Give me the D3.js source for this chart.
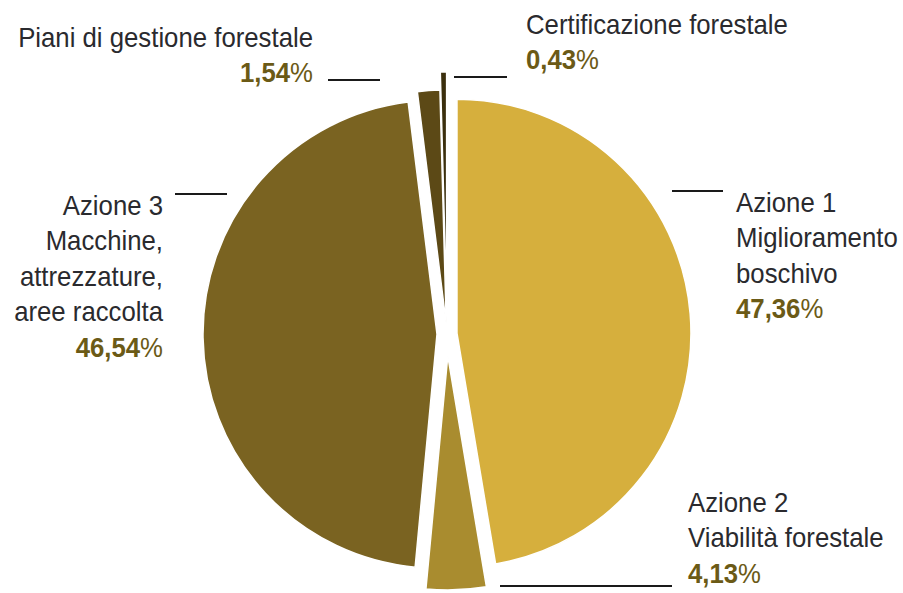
<!DOCTYPE html>
<html>
<head>
<meta charset="utf-8">
<script src="https://cdn.jsdelivr.net/npm/d3@7/dist/d3.min.js"></script>
<style>
  html, body { margin: 0; padding: 0; background: #ffffff; }
  svg { display: block; }
</style>
</head>
<body>
<svg id="chart" width="903" height="593"></svg>
<script>
// ---- DATA ----
const categories = [
  "Azione 1 Miglioramento boschivo",
  "Azione 2 Viabilità forestale",
  "Azione 3 Macchine, attrezzature, aree raccolta",
  "Piani di gestione forestale",
  "Certificazione forestale"
];
const labelLines = [
  ["Azione 1", "Miglioramento", "boschivo"],
  ["Azione 2", "Viabilità forestale"],
  ["Azione 3", "Macchine,", "attrezzature,", "aree raccolta"],
  ["Piani di gestione forestale"],
  ["Certificazione forestale"]
];
const values = [47.36, 4.13, 46.54, 1.54, 0.43];

// ---- STYLE / LAYOUT ----
const colors = ["#D6AF3D", "#A98C2F", "#7A6321", "#5C4916", "#3B2F0D"];
const explode = [10, 22, 10, 10, 28];
const labelLayout = [
  { x: 736, y: 212, anchor: "start" },
  { x: 688, y: 512, anchor: "start" },
  { x: 163, y: 215, anchor: "end" },
  { x: 313, y: 47,  anchor: "end" },
  { x: 526, y: 34,  anchor: "start" }
];
const leaders = [
  { x1: 672, x2: 723, y: 191 },
  { x1: 500, x2: 672, y: 586 },
  { x1: 175, x2: 227, y: 194 },
  { x1: 328, x2: 380, y: 80 },
  { x1: 454, x2: 507, y: 77 }
];
const cx = 447, cy = 334, R = 234;
const lineHeight = 35.5;
const condense = 0.92;
const fontFamily = "'Liberation Sans', Arial, sans-serif";

const svg = d3.select("#chart");
const itLocale = d3.formatLocale({ decimal: ",", thousands: ".", grouping: [3], currency: ["", "€"] });
const fmt = itLocale.format(".2f");

const pie = d3.pie().sort(null).value(d => d).startAngle(0).endAngle(2 * Math.PI);
const arcs = pie(values);
const arc = d3.arc().innerRadius(0).outerRadius(R);

const g = svg.append("g").attr("transform", `translate(${cx},${cy})`);
g.selectAll("path.slice")
  .data(arcs)
  .join("path")
  .attr("class", "slice")
  .attr("d", arc)
  .attr("fill", (d, i) => colors[i])
  .attr("stroke", "#ffffff")
  .attr("stroke-width", 1.5)
  .attr("transform", (d, i) => {
    const a = (d.startAngle + d.endAngle) / 2;
    return `translate(${Math.sin(a) * explode[i]},${-Math.cos(a) * explode[i]})`;
  });

// leader lines
svg.selectAll("line.leader")
  .data(leaders)
  .join("line")
  .attr("class", "leader")
  .attr("x1", d => d.x1).attr("x2", d => d.x2)
  .attr("y1", d => d.y).attr("y2", d => d.y)
  .attr("stroke", "#1a1a1a")
  .attr("stroke-width", 2);

// labels
labelLines.forEach((lines, i) => {
  const L = labelLayout[i];
  const lg = svg.append("g")
    .attr("transform", `translate(${L.x},${L.y}) scale(${condense},1)`);
  const t = lg.append("text")
    .attr("text-anchor", L.anchor)
    .attr("font-family", fontFamily)
    .attr("font-size", 28)
    .attr("fill", "#2a2a2e");
  lines.forEach((ln, j) => {
    t.append("tspan").attr("x", 0).attr("y", j * lineHeight).text(ln);
  });
  const p = lg.append("text")
    .attr("x", 0).attr("y", lines.length * lineHeight)
    .attr("text-anchor", L.anchor)
    .attr("font-family", fontFamily)
    .attr("font-size", 28)
    .attr("fill", "#6B5A16");
  p.append("tspan").attr("font-weight", "bold").text(fmt(values[i]));
  p.append("tspan").text("%");
});
</script>
</body>
</html>
